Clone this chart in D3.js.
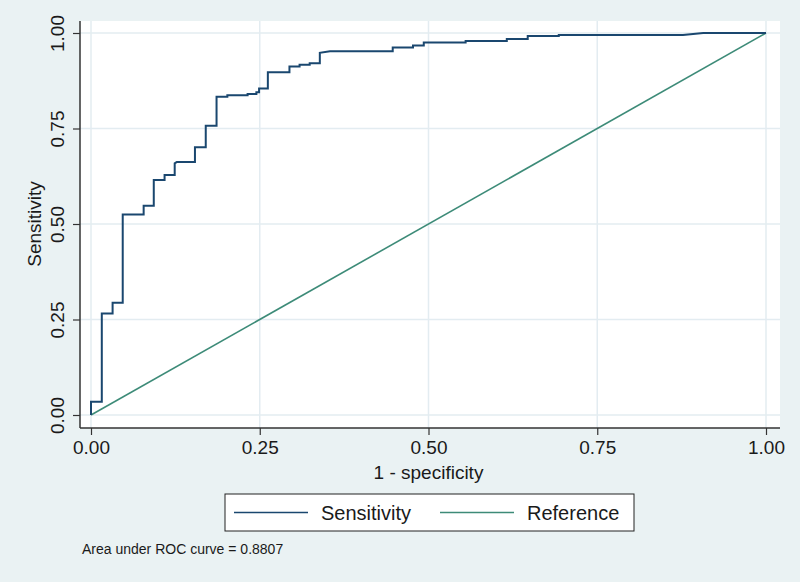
<!DOCTYPE html>
<html lang="en">
<head>
    <meta charset="UTF-8">
    <title>ROC curve</title>
    <style>
        body { margin: 0; background: #eaf2f3; }
        text { font-family: "Liberation Sans", Arial, sans-serif; fill: #1a1a1a; }
    </style>
</head>
<body>
<div id="chart"></div>

<script src="https://d3js.org/d3.v7.min.js"></script>

<script>
    // ROC curve vertices (1 - specificity, sensitivity)
    var fpr = [0, 0, 0.016, 0.016, 0.032, 0.032, 0.047, 0.047, 0.078, 0.078,
        0.093, 0.093, 0.109, 0.109, 0.124, 0.124, 0.127, 0.154, 0.154, 0.170,
        0.170, 0.186, 0.186, 0.202, 0.202, 0.232, 0.232, 0.245, 0.245, 0.249,
        0.249, 0.262, 0.262, 0.294, 0.294, 0.309, 0.309, 0.324, 0.324, 0.339,
        0.339, 0.354, 0.447, 0.447, 0.477, 0.477, 0.493, 0.493, 0.555, 0.555,
        0.616, 0.616, 0.647, 0.647, 0.693, 0.693, 0.877, 0.907, 1];
    var tpr = [0, 0.035, 0.035, 0.266, 0.266, 0.294, 0.294, 0.525, 0.525, 0.548,
        0.548, 0.615, 0.615, 0.628, 0.628, 0.659, 0.662, 0.662, 0.701, 0.701,
        0.757, 0.757, 0.833, 0.833, 0.837, 0.837, 0.840, 0.840, 0.845, 0.845,
        0.855, 0.855, 0.897, 0.897, 0.912, 0.912, 0.917, 0.917, 0.921, 0.921,
        0.948, 0.952, 0.952, 0.962, 0.962, 0.967, 0.967, 0.975, 0.975, 0.979,
        0.979, 0.984, 0.984, 0.992, 0.992, 0.995, 0.995, 1, 1];

    // Reference diagonal
    var refX = [0, 1];
    var refY = [0, 1];

    var xTicks = [0, 0.25, 0.5, 0.75, 1];
    var yTicks = [0, 0.25, 0.5, 0.75, 1];
    var legendLabels = ["Sensitivity", "Reference"];
    var aucText = "Area under ROC curve = 0.8807";

    var colors = {sens: "#1a476f", ref: "#3d8b78"};

    // Viewport and plot region
    var vp = {width: 800, height: 582};
    var plot = {left: 80, right: 780, top: 21, bottom: 428};

    var svg = d3.select("#chart").append("svg")
        .attr("width", vp.width)
        .attr("height", vp.height);

    svg.append("rect")
        .attr("width", vp.width).attr("height", vp.height)
        .attr("fill", "#eaf2f3");

    // Scales (the data range sits inside the plot region with some padding)
    var x = d3.scaleLinear().domain([0, 1]).range([91, 766]);
    var y = d3.scaleLinear().domain([0, 1]).range([415, 33]);

    // Plot region
    svg.append("rect")
        .attr("x", plot.left).attr("y", plot.top)
        .attr("width", plot.right - plot.left)
        .attr("height", plot.bottom - plot.top)
        .attr("fill", "#ffffff");

    // Gridlines
    svg.append("g")
        .selectAll("line.gx")
        .data(xTicks)
        .join("line")
        .attr("x1", d => x(d)).attr("x2", d => x(d))
        .attr("y1", plot.top).attr("y2", plot.bottom)
        .attr("stroke", "#e3ecf1").attr("stroke-width", 1.5);
    svg.append("g")
        .selectAll("line.gy")
        .data(yTicks)
        .join("line")
        .attr("y1", d => y(d)).attr("y2", d => y(d))
        .attr("x1", plot.left).attr("x2", plot.right)
        .attr("stroke", "#e3ecf1").attr("stroke-width", 1.5);

    // Reference line
    var line = d3.line().x(d => x(d[0])).y(d => y(d[1]));
    svg.append("path")
        .datum(d3.zip(refX, refY))
        .attr("d", line)
        .attr("fill", "none")
        .attr("stroke", colors.ref)
        .attr("stroke-width", 1.6);

    // ROC curve
    svg.append("path")
        .datum(d3.zip(fpr, tpr))
        .attr("d", line)
        .attr("fill", "none")
        .attr("stroke", colors.sens)
        .attr("stroke-width", 2);

    // X axis
    var xAxis = svg.append("g")
        .attr("transform", "translate(0," + plot.bottom + ")")
        .call(d3.axisBottom(x).tickValues(xTicks).tickFormat(d3.format(".2f"))
            .tickSize(7).tickPadding(6).tickSizeOuter(0));
    xAxis.select(".domain").attr("d", "M" + plot.left + ",0H" + plot.right)
        .attr("stroke", "#333").attr("stroke-width", 1.5);
    xAxis.selectAll(".tick line").attr("stroke", "#333").attr("stroke-width", 1.2);
    xAxis.selectAll(".tick text")
        .style("font-family", "'Liberation Sans', Arial, sans-serif")
        .attr("font-size", 19).attr("fill", "#1a1a1a");

    // Y axis, labels rotated as in Stata
    var yAxis = svg.append("g")
        .attr("transform", "translate(" + plot.left + ",0)")
        .call(d3.axisLeft(y).tickValues(yTicks).tickFormat(d3.format(".2f"))
            .tickSize(7).tickSizeOuter(0));
    yAxis.select(".domain").attr("d", "M0," + plot.top + "V" + plot.bottom)
        .attr("stroke", "#333").attr("stroke-width", 1.5);
    yAxis.selectAll(".tick line").attr("stroke", "#333").attr("stroke-width", 1.2);
    yAxis.selectAll(".tick text")
        .style("font-family", "'Liberation Sans', Arial, sans-serif")
        .attr("font-size", 19).attr("fill", "#1a1a1a")
        .attr("x", null).attr("dy", null)
        .attr("text-anchor", "middle")
        .attr("transform", "translate(-16,0) rotate(-90)");

    // Axis titles
    svg.append("text")
        .attr("x", (x(0) + x(1)) / 2).attr("y", 479)
        .attr("text-anchor", "middle").attr("font-size", 19)
        .text("1 - specificity");
    svg.append("text")
        .attr("transform", "translate(41," + (y(0) + y(1)) / 2 + ") rotate(-90)")
        .attr("text-anchor", "middle").attr("font-size", 19)
        .text("Sensitivity");

    // Legend
    var legend = svg.append("g");
    legend.append("rect")
        .attr("x", 225).attr("y", 494).attr("width", 409).attr("height", 37)
        .attr("fill", "#ffffff").attr("stroke", "#222").attr("stroke-width", 1);
    var legendItems = [
        {label: legendLabels[0], color: colors.sens, x0: 234},
        {label: legendLabels[1], color: colors.ref, x0: 440}
    ];
    legendItems.forEach(function (d) {
        legend.append("line")
            .attr("x1", d.x0).attr("x2", d.x0 + 74)
            .attr("y1", 512.5).attr("y2", 512.5)
            .attr("stroke", d.color).attr("stroke-width", 1.6);
        legend.append("text")
            .attr("x", d.x0 + 87).attr("y", 520)
            .attr("font-size", 20)
            .text(d.label);
    });

    // Note
    svg.append("text")
        .attr("x", 82).attr("y", 554)
        .attr("font-size", 14)
        .text(aucText);
</script>
</body>
</html>
